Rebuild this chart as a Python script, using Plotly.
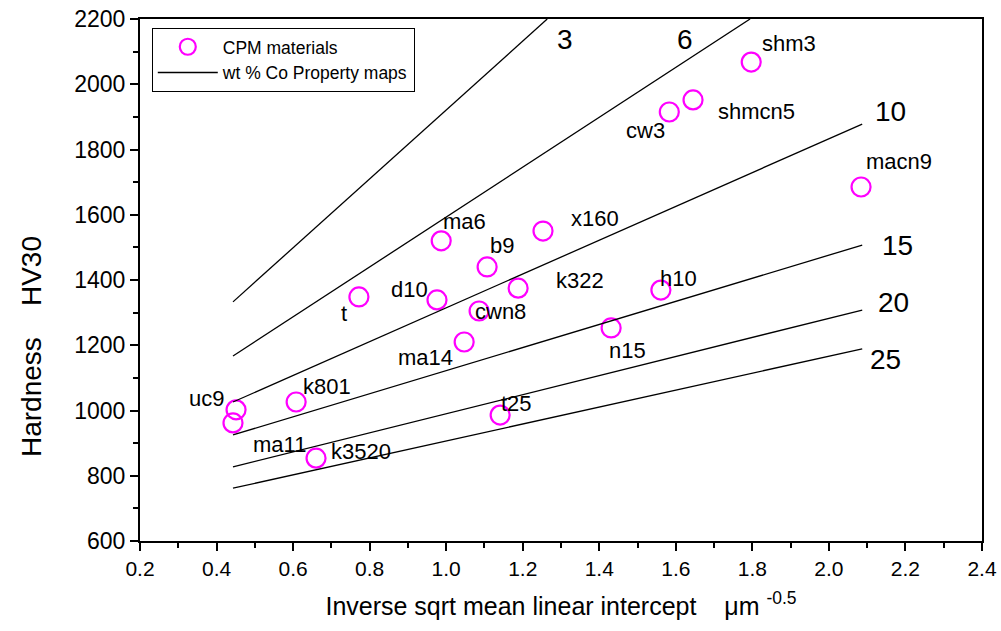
import plotly.graph_objects as go

# ---- data ----
names = ["shm3", "shmcn5", "cw3", "macn9", "x160", "ma6", "b9", "k322", "d10", "t",
         "cwn8", "h10", "n15", "ma14", "k801", "uc9", "ma11", "t25", "k3520"]
px = [1.797, 1.645, 1.583, 2.084, 1.253, 0.987, 1.107, 1.188, 0.976, 0.772,
      1.086, 1.561, 1.431, 1.047, 0.608, 0.451, 0.443, 1.141, 0.660]
py = [2068, 1952, 1915, 1685, 1550, 1520, 1440, 1375, 1339, 1348,
      1305, 1369, 1253, 1210, 1026, 1002, 962, 986, 854]
lab_x = [1.896, 1.812, 1.52, 2.183, 1.388, 1.049, 1.146, 1.35, 0.903, 0.733,
         1.141, 1.608, 1.475, 0.947, 0.689, 0.375, 0.565, 1.185, 0.778]
lab_y = [2126, 1915, 1857, 1762, 1590, 1578, 1507, 1397, 1372, 1296,
         1302, 1406, 1185, 1164, 1075, 1038, 897, 1020, 873]

co_levels = ["3", "6", "10", "15", "20", "25"]
co_x = [[0.443, 1.264], [0.443, 1.794], [0.443, 2.087], [0.443, 2.087], [0.443, 2.087], [0.443, 2.087]]
co_y = [[1333, 2200], [1167, 2200], [1026, 1878], [925, 1507], [827, 1308], [762, 1189]]
co_lab_x = [1.31, 1.624, 2.162, 2.178, 2.168, 2.147]
co_lab_y = [2136, 2136, 1915, 1507, 1330, 1155]

x_ticks = [0.2, 0.4, 0.6, 0.8, 1.0, 1.2, 1.4, 1.6, 1.8, 2.0, 2.2, 2.4]
x_tick_text = ["0.2", "0.4", "0.6", "0.8", "1.0", "1.2", "1.4", "1.6", "1.8", "2.0", "2.2", "2.4"]
y_ticks = [600, 800, 1000, 1200, 1400, 1600, 1800, 2000, 2200]

FONT = "Liberation Sans, Arial, sans-serif"

fig = go.Figure()
fig.add_trace(go.Scatter(
    x=px, y=py, mode="markers", name="CPM materials",
    marker=dict(symbol="circle-open", size=19, color="#ff00ff", line=dict(width=2.2, color="#ff00ff")),
))
for i, lvl in enumerate(co_levels):
    fig.add_trace(go.Scatter(
        x=co_x[i], y=co_y[i], mode="lines", name="wt % Co Property maps",
        line=dict(color="black", width=1.3), showlegend=(i == 0),
    ))

for n, lx, ly in zip(names, lab_x, lab_y):
    fig.add_annotation(x=lx, y=ly, text=n, showarrow=False, xanchor="center", yanchor="middle",
                       font=dict(family=FONT, size=22, color="black"))
for n, lx, ly in zip(co_levels, co_lab_x, co_lab_y):
    fig.add_annotation(x=lx, y=ly, text=n, showarrow=False, xanchor="center", yanchor="middle",
                       font=dict(family=FONT, size=28, color="black"))

# y-axis title placed as in the reference (shifted below the plot centre)
fig.add_annotation(xref="paper", yref="paper", x=-0.128, y=0.372, textangle=-90,
                   text="Hardness &nbsp;&nbsp; HV30", showarrow=False,
                   xanchor="center", yanchor="middle",
                   font=dict(family=FONT, size=28, color="black"))

fig.update_layout(
    width=1001, height=631,
    margin=dict(l=140, r=19, t=19, b=90, autoexpand=False),
    plot_bgcolor="white", paper_bgcolor="white",
    font=dict(family=FONT, color="black"),
    showlegend=True,
    legend=dict(x=0.014, y=0.983, xanchor="left", yanchor="top",
                bgcolor="white", bordercolor="black", borderwidth=1,
                font=dict(family=FONT, size=17.5, color="black"),
                tracegroupgap=0, itemwidth=60),
    xaxis=dict(range=[0.2, 2.4], tickvals=x_ticks, ticktext=x_tick_text,
               ticks="outside", ticklen=8, tickwidth=1.5, tickcolor="black",
               showline=True, linecolor="black", linewidth=2, mirror=True,
               showgrid=False, zeroline=False, automargin=False,
               tickfont=dict(family=FONT, size=21),
               minor=dict(dtick=0.1, ticks="outside", ticklen=5, tickcolor="black", tickwidth=1.5),
               title=dict(text="Inverse sqrt mean linear intercept &nbsp;&nbsp; μm <sup>-0.5</sup>",
                          font=dict(family=FONT, size=25), standoff=18)),
    yaxis=dict(range=[600, 2200], tickvals=y_ticks,
               ticks="outside", ticklen=8, tickwidth=1.5, tickcolor="black",
               showline=True, linecolor="black", linewidth=2, mirror=True,
               showgrid=False, zeroline=False, automargin=False,
               tickfont=dict(family=FONT, size=23),
               minor=dict(dtick=100, ticks="outside", ticklen=5, tickcolor="black", tickwidth=1.5)),
)

fig.write_html("out.html")
